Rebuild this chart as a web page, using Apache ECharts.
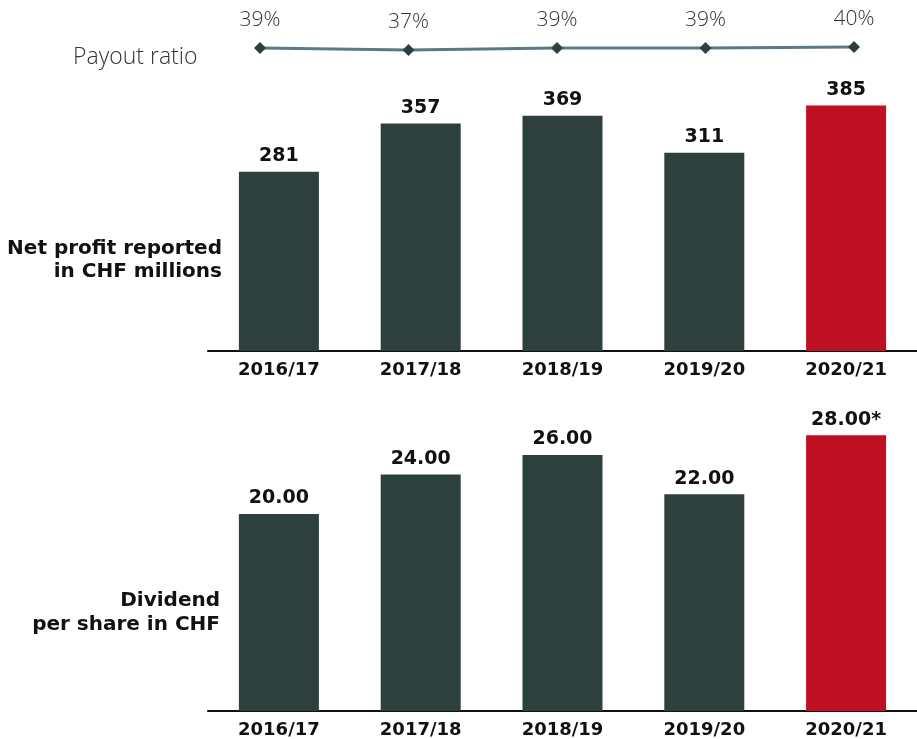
<!DOCTYPE html>
<html>
<head>
<meta charset="utf-8">
<title>Net profit and dividend</title>
<script src="https://cdn.jsdelivr.net/npm/echarts@6/dist/echarts.min.js"></script>
<style>
  html, body { margin: 0; padding: 0; background: #fff; }
  #main { width: 917px; height: 739px; }
</style>
</head>
<body>
<div id="main"></div>
<script>
// data
var years = ['2016/17', '2017/18', '2018/19', '2019/20', '2020/21'];
var payoutRatio = [39, 37, 39, 39, 40];
var netProfit = [281, 357, 369, 311, 385];
var dividend = [20.00, 24.00, 26.00, 22.00, 28.00];
var dividendLabels = ['20.00', '24.00', '26.00', '22.00', '28.00*'];

var darkColor = '#2d403e';
var redColor = '#be0f23';
var boldFont = 'DejaVu Sans';
var lightFont = 'Open Sans';

var chart = echarts.init(document.getElementById('main'));

// last bar is highlighted in red
function barData(values, labels) {
  return values.map(function (v, i) {
    var item = { value: v, itemStyle: { color: i === values.length - 1 ? redColor : darkColor } };
    if (labels) item.labelText = labels[i];
    return item;
  });
}

function catAxis(gridIndex, showLabels, gap) {
  return {
    type: 'category',
    gridIndex: gridIndex,
    data: years,
    boundaryGap: gap,
    axisTick: { show: false },
    axisLine: { show: showLabels, lineStyle: { color: '#111', width: 2 } },
    axisLabel: {
      show: showLabels,
      margin: 10,
      color: '#111',
      fontFamily: boldFont,
      fontWeight: 'bold',
      fontSize: 18
    }
  };
}

function valAxis(gridIndex, min, max) {
  return {
    type: 'value',
    gridIndex: gridIndex,
    min: min,
    max: max,
    show: false,
    splitLine: { show: false }
  };
}

var option = {
  backgroundColor: '#fff',
  animation: false,
  grid: [
    { left: 260, width: 594, top: 37, height: 20 },   // payout ratio
    { left: 208, width: 712, top: 96, height: 255 },  // net profit
    { left: 208, width: 712, top: 415.5, height: 295.5 } // dividend
  ],
  xAxis: [
    catAxis(0, false, false),
    catAxis(1, true, true),
    catAxis(2, true, true)
  ],
  yAxis: [
    valAxis(0, 30, 50),
    valAxis(1, 0, 400),
    valAxis(2, 0, 30)
  ],
  graphic: [
    {
      type: 'text', x: 73, y: 46,
      style: { text: 'Payout ratio', fill: '#333', font: '300 23px "' + lightFont + '"' }
    },
    {
      type: 'text', x: 222, y: 237,
      style: {
        text: 'Net profit reported\nin CHF millions', align: 'right', verticalAlign: 'top',
        fill: '#111', font: 'bold 20px "' + boldFont + '"', lineHeight: 23
      }
    },
    {
      type: 'text', x: 220, y: 589,
      style: {
        text: 'Dividend\nper share in CHF', align: 'right', verticalAlign: 'top',
        fill: '#111', font: 'bold 20px "' + boldFont + '"', lineHeight: 24
      }
    }
  ],
  series: [
    {
      type: 'line',
      xAxisIndex: 0, yAxisIndex: 0,
      data: payoutRatio,
      lineStyle: { color: '#5b7a87', width: 3 },
      itemStyle: { color: darkColor },
      symbol: 'diamond',
      symbolSize: 12,
      label: {
        show: true,
        position: 'top',
        distance: 11,
        formatter: '{c}%',
        color: '#333',
        fontFamily: lightFont,
        fontWeight: 300,
        fontSize: 21
      }
    },
    {
      type: 'bar',
      xAxisIndex: 1, yAxisIndex: 1,
      data: barData(netProfit),
      barWidth: 80,
      label: {
        show: true, position: 'top', distance: 6,
        color: '#111', fontFamily: boldFont, fontWeight: 'bold', fontSize: 19
      }
    },
    {
      type: 'bar',
      xAxisIndex: 2, yAxisIndex: 2,
      data: barData(dividend, dividendLabels),
      barWidth: 80,
      label: {
        show: true, position: 'top', distance: 6,
        formatter: function (p) { return p.data.labelText; },
        color: '#111', fontFamily: boldFont, fontWeight: 'bold', fontSize: 19
      }
    }
  ]
};

chart.setOption(option);
</script>
</body>
</html>
